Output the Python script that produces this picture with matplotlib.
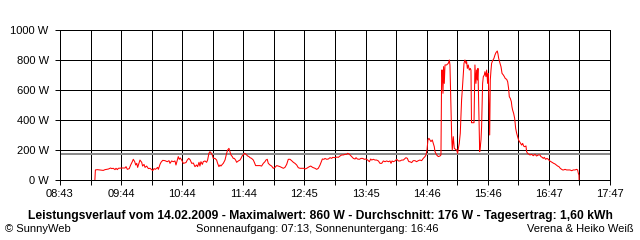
import matplotlib
matplotlib.use("Agg")
import matplotlib.pyplot as plt
import numpy as np

# time in minutes of the day, power in W
t_min = [557.5, 558.0, 559.9, 565.8, 567.5, 570.8, 573.1, 574.1, 575.7, 577.4, 578.4, 579.7, 580.7,
         584.0, 587.3, 588.3, 589.6, 591.5, 592.9, 594.5, 595.5, 596.9, 597.9, 598.9, 599.8, 601.1,
         602.1, 603.8, 604.7, 606.1, 607.1, 608.7, 610.4, 612.0, 613.7, 614.7, 616.0, 617.3, 619.6,
         620.3, 621.9, 622.9, 624.6, 626.8, 629.1, 630.8, 631.8, 633.4, 635.1, 636.7, 637.7, 639.0,
         640.0, 641.0, 642.0, 643.3, 645.0, 647.6, 648.9, 650.3, 651.6, 653.3, 654.9,
         656.5, 658.1, 659.1, 660.5, 661.4, 662.4, 663.8, 664.7, 666.4, 668.0, 669.0, 670.3, 671.3,
         672.3, 673.6, 674.6, 676.3, 677.9, 678.9, 680.2, 681.2, 682.2, 683.5, 684.5, 686.2, 687.8,
         688.8, 690.1, 691.1, 692.1, 693.4, 694.4, 695.4, 696.7, 697.7, 699.4, 701.0, 702.0, 703.3,
         704.3, 705.3, 706.6, 707.6, 708.6, 709.9, 710.9, 712.5, 714.2, 715.2, 716.5, 718.5, 720.8,
         722.4, 724.1, 725.7, 726.7, 728.0, 729.0, 730.7, 732.3, 734.0, 735.6, 737.3, 738.9, 740.6,
         742.2, 743.9, 745.5, 747.2, 748.8, 750.5, 752.1, 753.8, 755.4, 757.1, 758.7,
         760.4, 764.4, 765.3, 767.0, 769.6, 771.0, 772.9, 775.2, 776.9, 778.5, 780.2, 781.2, 782.5,
         784.1, 785.1, 786.8, 788.4, 790.1, 791.7, 792.7, 795.0, 796.7, 798.3, 800.0, 801.6, 803.3,
         804.9, 806.6, 807.5, 808.9, 809.9, 811.5, 813.2, 814.8, 815.8, 817.1, 819.1, 820.7, 822.4,
         824.0, 825.7, 827.3, 829.0, 830.3, 831.3, 832.9, 834.6, 836.2, 837.9, 839.5, 841.2, 842.8,
         844.5, 846.1, 847.8, 849.4, 850.4, 851.4, 852.7, 854.4, 856.0, 857.7, 859.3, 861.0, 862.6,
         864.3, 865.2, 866.6, 867.6, 868.2,
         869.1, 870.8, 872.4, 874.1, 875.7, 877.4, 879.0, 880.7, 882.3, 884.0, 885.0, 886.0, 886.9,
         887.9, 888.9, 889.9, 891.2, 892.2, 893.2, 893.9, 895.5, 897.2, 898.8, 899.8, 900.5, 901.1,
         901.8, 902.4, 903.1, 903.8, 905.4, 907.1, 908.1, 908.7, 909.7, 910.4, 911.0, 912.0, 913.0,
         914.3, 915.3, 916.3, 917.0, 917.9, 918.9, 919.6, 920.2, 920.9, 921.9, 922.6, 923.5, 924.5,
         925.2, 925.9, 926.8, 927.8, 928.8, 929.5, 930.0, 932.5, 933.4,
         934.4, 935.1, 935.8, 936.4, 937.4, 938.1, 938.7, 939.4, 940.0, 941.0, 941.7, 942.7, 943.3,
         944.3, 945.0, 946.0, 946.6, 947.3, 948.0, 948.6, 949.3, 949.9, 950.9, 952.2, 953.2, 954.2,
         954.9, 955.5, 956.2, 956.9, 957.5, 958.2, 959.2, 960.2, 961.5, 962.5, 963.4, 964.8, 965.8,
         966.7, 967.4, 968.4, 969.4, 970.0, 970.7, 971.7, 972.7, 973.7, 974.7, 975.6, 976.6, 977.6,
         978.6, 979.6, 980.6, 981.6, 982.6,
         983.9, 984.5, 985.5, 986.9, 987.8, 989.5, 991.1, 992.8, 994.4, 996.1, 997.7, 998.7, 1000.0,
         1001.0, 1002.0, 1003.3, 1004.7, 1006.0, 1007.0, 1008.6, 1009.9, 1011.3, 1012.6, 1013.9,
         1015.2, 1016.5, 1017.8, 1019.2, 1020.2, 1021.1, 1022.5, 1024.1, 1025.8, 1027.4, 1029.1,
         1030.7, 1032.4, 1034.0, 1035.0, 1035.7, 1036.3, 1036.4]
watt = [0, 67, 69, 64, 69, 73, 80, 76, 78, 69, 78, 69, 78,
        80, 80, 89, 71, 76, 100, 122, 138, 122, 100, 111, 84, 111,
        133, 118, 93, 104, 84, 93, 76, 78, 69, 62, 76, 71, 84,
        71, 104, 118, 131, 129, 122, 129, 111, 127, 122, 127, 100, 133,
        156, 138, 147, 133, 111, 116, 133, 144, 136, 111, 113,
        89, 100, 89, 118, 93, 122, 104, 122, 127, 118, 133, 178, 189,
        182, 167, 144, 144, 133, 111, 89, 100, 93, 104, 111, 133, 178,
        200, 211, 189, 167, 156, 144, 144, 133, 118, 127, 133, 144, 162,
        167, 178, 173, 167, 160, 156, 149, 144, 133, 118, 96, 96, 96,
        93, 111, 122, 133, 138, 111, 100, 93, 78, 84, 96, 93, 89,
        84, 78, 84, 104, 138, 138, 129, 118, 111, 100, 82,
        78, 78, 73, 78, 89, 93, 84, 78, 71, 78, 100, 118, 140,
        138, 144, 138, 140, 149, 144, 151, 149, 153, 151, 160, 167, 167,
        171, 171, 178, 173, 167, 156, 144, 140, 149, 140, 138, 144, 144,
        138, 140, 133, 122, 140, 133, 138, 133, 133, 127, 111, 111, 127,
        122, 127, 122, 127, 111, 127, 122, 127, 138, 127, 127, 133, 133,
        144, 149, 144, 127, 122,
        122, 116, 129, 129, 122, 129, 133, 129, 144, 156, 167, 200, 267,
        278, 267, 256, 267, 244, 222, 189, 167, 156, 160, 167, 733, 733,
        578, 756, 644, 767, 767, 778, 800, 767, 489, 289, 200, 289, 211,
        204, 200, 178, 211, 244, 311, 422, 533, 600, 711, 778, 800, 778,
        789, 744, 767, 733, 744, 733, 382, 382, 767,
        644, 733, 667, 744, 400, 189, 222, 267, 355, 644, 689, 700, 722,
        689, 733, 644, 711, 511, 300, 667, 733, 778, 795, 811, 833, 849,
        855, 860, 840, 811, 795, 778, 755, 711, 700, 689, 677, 671, 655,
        611, 555, 544, 522, 489, 466, 444, 411, 344, 311, 289, 266, 255,
        244, 233, 244, 226, 222,
        227, 189, 178, 171, 167, 171, 162, 171, 160, 167, 167, 156, 151,
        144, 151, 138, 144, 138, 129, 122, 116, 111, 107, 100,
        93, 89, 78, 71, 67, 67, 71, 67, 67, 67, 62,
        67, 67, 71, 67, 44, 33, 0]

avg_w = 176
t_start, t_end = 523, 1067
x_labels = ["08:43", "09:44", "10:44", "11:44", "12:45", "13:45", "14:46", "15:46", "16:47", "17:47"]
y_ticks = [0, 200, 400, 600, 800, 1000]
y_labels = ["0 W", "200 W", "400 W", "600 W", "800 W", "1000 W"]

title = ("Leistungsverlauf vom 14.02.2009 - Maximalwert: 860 W - Durchschnitt: 176 W"
         " - Tagesertrag: 1,60 kWh")
left_note = "\u00a9 SunnyWeb"
mid_note = "Sonnenaufgang: 07:13, Sonnenuntergang: 16:46"
right_note = "Verena & Heiko Wei\u00df"

plt.rcParams['font.family'] = ['Liberation Sans', 'DejaVu Sans']
plt.rcParams['lines.antialiased'] = False

LW = 0.7

fig = plt.figure(figsize=(6.4, 2.4), dpi=100)
ax = fig.add_axes([60 / 640, 60 / 240, 550 / 640, 150 / 240])

major = np.linspace(t_start, t_end, len(x_labels))
minor = np.linspace(t_start, t_end, 2 * len(x_labels) - 1)
ax.set_xlim(t_start, t_end)
ax.set_ylim(0, 1000)
ax.set_xticks(major)
ax.set_xticklabels(x_labels)
ax.set_xticks(minor, minor=True)
ax.set_yticks(y_ticks)
ax.set_yticklabels(y_labels)

ax.grid(True, which='both', color='black', linewidth=LW, antialiased=False)
ax.set_axisbelow(True)
for s in ax.spines.values():
    s.set_color('black')
    s.set_linewidth(LW)
    s.set_antialiased(False)
ax.tick_params(which='both', direction='out', length=3.6, width=LW, color='black',
               labelsize=8)
ax.tick_params(axis='y', pad=4.5)
ax.tick_params(axis='x', pad=3)

ax.axhline(avg_w, color='#8c8c8c', linewidth=1.1, antialiased=False)
ax.plot(t_min, watt, color='#ff0000', linewidth=0.75, antialiased=True)

fig.text(0.5, 1 - 216 / 240, title, ha='center', va='center', fontsize=8.7, fontweight='bold')
fig.text(5 / 640, 1 - 229 / 240, left_note, ha='left', va='center', fontsize=8)
fig.text(317 / 640, 1 - 229 / 240, mid_note, ha='center', va='center', fontsize=8)
fig.text(634 / 640, 1 - 229 / 240, right_note, ha='right', va='center', fontsize=8)

fig.savefig("out.png", dpi=100, facecolor='white')
